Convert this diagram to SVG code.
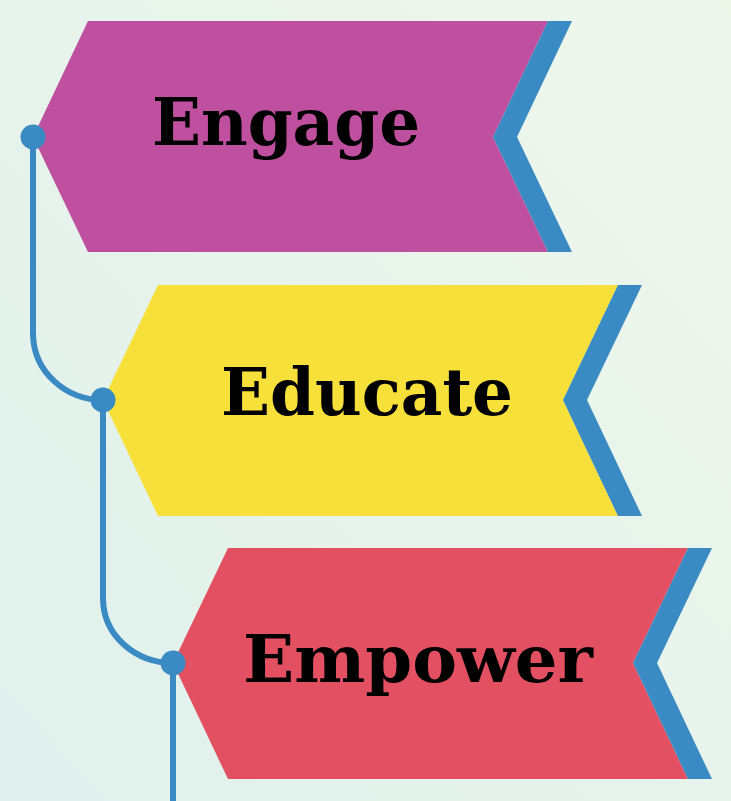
<svg xmlns="http://www.w3.org/2000/svg" width="731" height="801" viewBox="0 0 731 801">
  <defs>
    <linearGradient id="bg" x1="1" y1="0" x2="0" y2="1">
      <stop offset="0" stop-color="#EFF7EB"/>
      <stop offset="1" stop-color="#DFF0EC"/>
    </linearGradient>
    <style>
      .label { font-family: "DejaVu Serif", "Liberation Serif", serif; font-weight: bold; font-size: 66px; fill: #000; }
      .stripe { fill: #3A8AC4; }
      .conn { fill: none; stroke: #3A8AC4; stroke-width: 6; }
      .dot { fill: #3A8AC4; }
    </style>
  </defs>
  <rect width="731" height="801" fill="url(#bg)"/>

  <g id="engage">
    <polygon points="88,21 548,21 493,137 548,252 88,252 33,137" fill="#BF509F"/>
    <polygon class="stripe" points="548,21 572,21 517,137 572,252 548,252 493,137"/>
    <text class="label" x="152" y="145" textLength="268" lengthAdjust="spacingAndGlyphs">Engage</text>
  </g>

  <g id="educate">
    <polygon points="158,285 618,285 563,400 618,516 158,516 103,400" fill="#F8E03A"/>
    <polygon class="stripe" points="618,285 642,285 587,400 642,516 618,516 563,400"/>
    <text class="label" x="221" y="415" textLength="292" lengthAdjust="spacingAndGlyphs">Educate</text>
  </g>

  <g id="empower">
    <polygon points="228,548 688,548 633,663 688,779 228,779 173,663" fill="#E35062"/>
    <polygon class="stripe" points="688,548 712,548 657,663 712,779 688,779 633,663"/>
    <text class="label" x="243" y="682" textLength="350" lengthAdjust="spacingAndGlyphs">Empower</text>
  </g>

  <g id="connectors">
    <path class="conn" d="M33,137 V333 C33,372 66,400 103,400"/>
    <path class="conn" d="M103,400 V598 C103,636 136,663 173,663"/>
    <path class="conn" d="M173,663 V801"/>
    <circle class="dot" cx="33" cy="137" r="12.5"/>
    <circle class="dot" cx="103" cy="400" r="12.5"/>
    <circle class="dot" cx="173" cy="663" r="12.5"/>
  </g>
</svg>
